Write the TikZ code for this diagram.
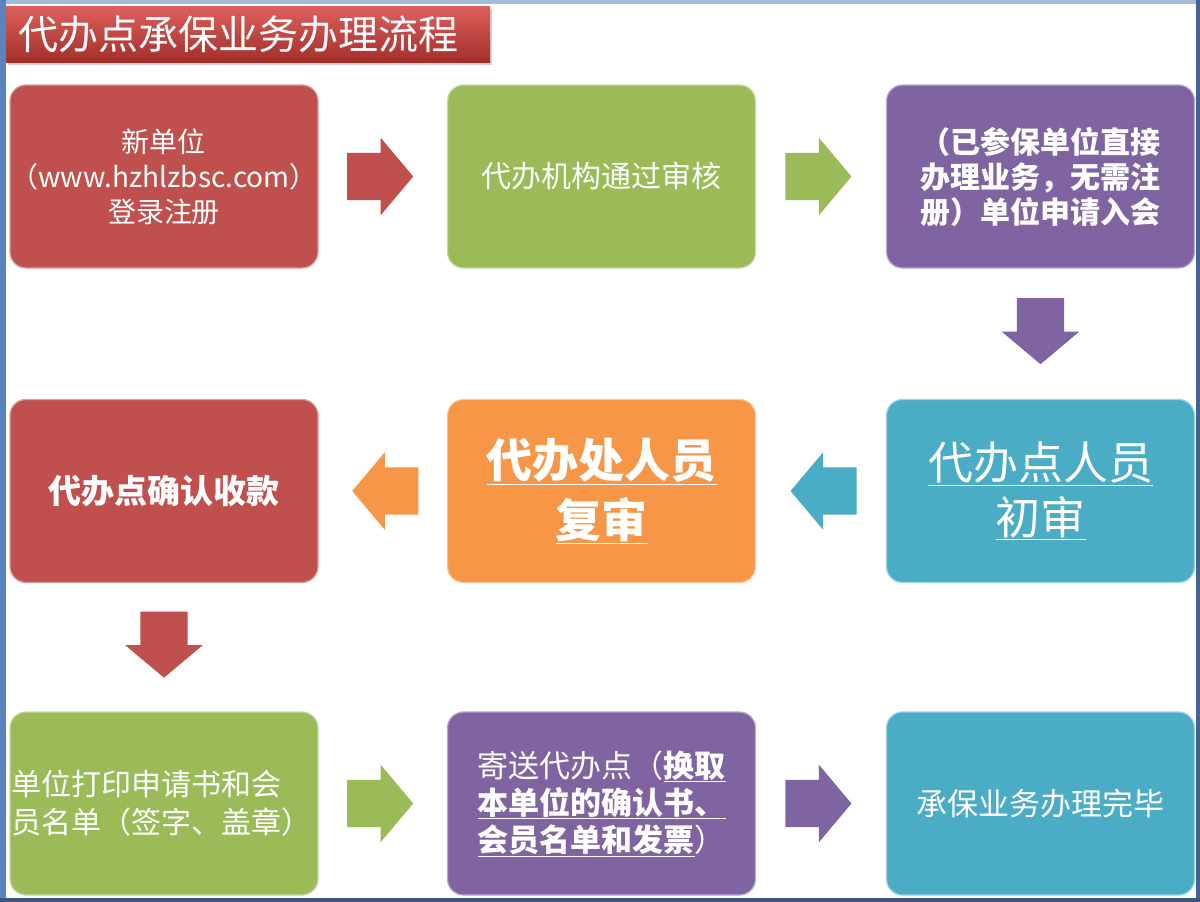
\documentclass[tikz,border=0pt]{standalone}
\usepackage{fontspec}
\setmainfont{Noto Sans CJK SC}
\usetikzlibrary{shapes.arrows,shadows}
\definecolor{ored}{HTML}{C0504D}
\definecolor{ogreen}{HTML}{9BBB59}
\definecolor{opurple}{HTML}{8064A2}
\definecolor{oblue}{HTML}{4BACC6}
\definecolor{oorange}{HTML}{F79646}
\definecolor{frameblue}{HTML}{5A84C0}
\definecolor{titletop}{HTML}{DE605C}
\definecolor{titlebot}{HTML}{A32F2B}
\newcommand{\fsz}[2]{\fontsize{#1}{#2}\selectfont}

\begin{document}
\begin{tikzpicture}[x=1pt,y=-1pt,
  box/.style={rounded corners=16pt,minimum width=308pt,minimum height=183pt,inner sep=0pt,
    text=white,align=center,fill=#1,draw=#1!55!white,line width=1.2pt},
  rarrow/.style 2 args={single arrow,fill=#1,draw=none,inner sep=0pt,text height=47pt,text depth=0pt,
    minimum height=66pt,minimum width=77pt,rotate=#2,xshift=-12.5pt,
    single arrow head extend=15pt,single arrow tip angle=100,single arrow head indent=0pt},
  titlebox/.style={rectangle,top color=titletop,bottom color=titlebot,text=white,
    minimum height=56pt,text width=460pt,inner xsep=12pt,inner ysep=0pt,align=left,
    drop shadow={shadow xshift=2pt,shadow yshift=-3pt,opacity=0.35}}]
\useasboundingbox (0,0) rectangle (1200,902);
\fill[white] (0,0) rectangle (1200,902);
\fill[frameblue!55!white] (0,0) rectangle (1200,4);
\fill[frameblue] (0,0) rectangle (6,902);
\fill[frameblue!75!black] (1196,0) rectangle (1200,902);
\fill[frameblue!65!black] (0,898) rectangle (1200,902);

\node[titlebox,anchor=west,font=\fsz{40}{40}] (title) at (6,34) {代办点承保业务办理流程};

\node[box=ored,font=\fsz{28}{35}] (reg) at (164,176.5) {新单位\\（www.hzhlzbsc.com）\\登录注册};
\node[box=ogreen,font=\fsz{30}{35}] (audit) at (601.5,176.5) {代办机构通过审核};
\node[box=opurple,font=\fsz{30}{35}\bfseries,align=left] (apply) at (1040.5,176.5) {（已参保单位直接\\办理业务，无需注\\册）单位申请入会};

\node[box=ored,font=\fsz{33}{40}\bfseries] (pay) at (164,491) {代办点确认收款};
\node[box=oorange,font=\fsz{46}{60}\bfseries] (second) at (601.5,491) {\underline{代办处人员}\\\underline{复审}};
\node[box=oblue,font=\fsz{45}{55}] (first) at (1040.5,491) {\underline{代办点人员}\\\underline{初审}};

\node[box=ogreen,font=\fsz{30}{38},align=left,text width=304pt] (print) at (164,803.5) {单位打印申请书和会\\员名单（签字、盖章）};
\node[box=opurple,font=\fsz{31}{37},align=left] (mail) at (601.5,803.5) {寄送代办点（\underline{\textbf{换取}}\\\underline{\textbf{本单位的确认书、}}\\\underline{\textbf{会员名单和发票}}）};
\node[box=oblue,font=\fsz{31}{37}] (done) at (1040.5,803.5) {承保业务办理完毕};

\path (reg) -- node[rarrow={ored}{0}] {} (audit);
\path (audit) -- node[rarrow={ogreen}{0}] {} (apply);
\path (apply) -- node[rarrow={opurple}{-90}] {} (first);
\path (first) -- node[rarrow={oblue}{180}] {} (second);
\path (second) -- node[rarrow={oorange}{180}] {} (pay);
\path (pay) -- node[rarrow={ored}{-90}] {} (print);
\path (print) -- node[rarrow={ogreen}{0}] {} (mail);
\path (mail) -- node[rarrow={opurple}{0}] {} (done);
\end{tikzpicture}
\end{document}
